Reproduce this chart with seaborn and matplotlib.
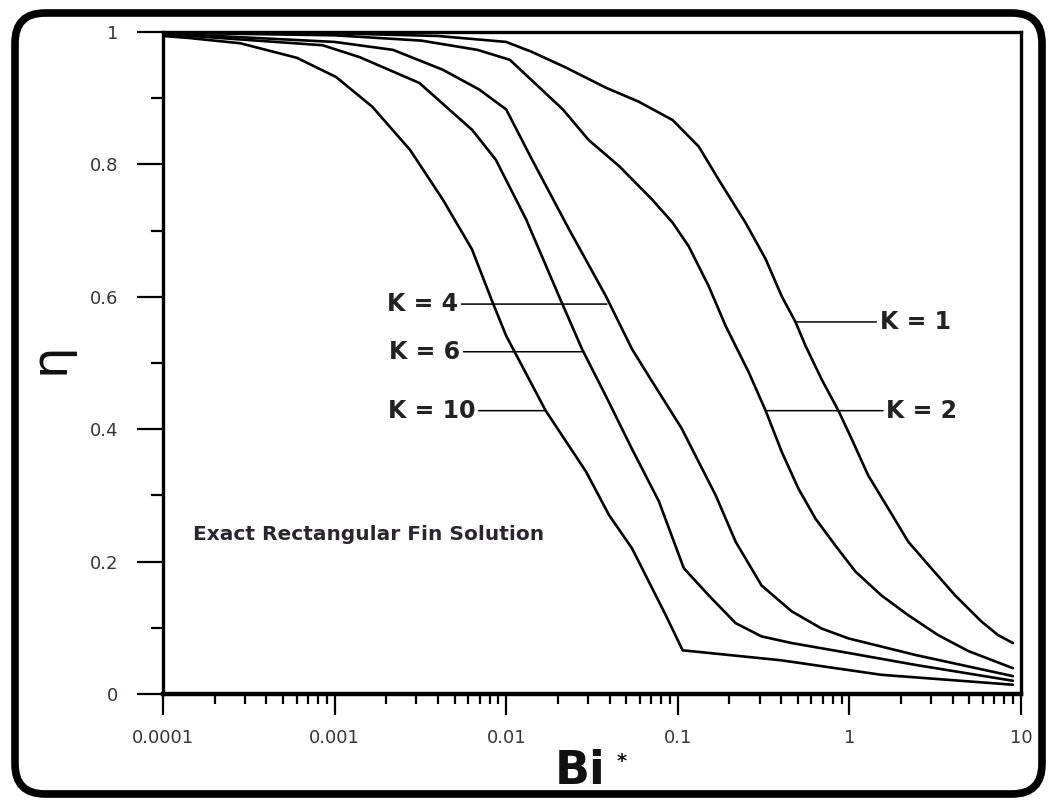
import matplotlib
matplotlib.use("Agg")
import matplotlib.pyplot as plt
from matplotlib.patches import FancyBboxPatch
from matplotlib.ticker import LogLocator, FixedLocator, NullFormatter, FixedFormatter
import seaborn as sns
import pandas as pd

# ---- data ----
bi_k1 = [0.0001, 0.001, 0.004, 0.01, 0.0141, 0.0224, 0.038, 0.0589, 0.0933, 0.1324, 0.173,
         0.248, 0.325, 0.403, 0.485, 0.555, 0.687, 0.863, 1.028, 1.288, 1.687, 2.203, 3.0,
         4.13, 5.85, 7.35, 8.97]
eta_k1 = [1.0, 0.998, 0.994, 0.985, 0.970, 0.946, 0.916, 0.895, 0.867, 0.827, 0.777,
          0.712, 0.657, 0.601, 0.562, 0.526, 0.476, 0.428, 0.386, 0.330, 0.280, 0.230, 0.190,
          0.149, 0.110, 0.089, 0.077]

bi_k2 = [0.0001, 0.001, 0.0032, 0.0068, 0.0105, 0.0214, 0.0302, 0.0457, 0.0708, 0.0933,
         0.1159, 0.1514, 0.190, 0.259, 0.325, 0.403, 0.505, 0.634, 0.830, 1.084, 1.535,
         2.203, 3.289, 4.92, 8.97]
eta_k2 = [0.999, 0.995, 0.987, 0.973, 0.958, 0.883, 0.837, 0.797, 0.747, 0.712,
          0.676, 0.616, 0.556, 0.486, 0.428, 0.366, 0.310, 0.265, 0.224, 0.185, 0.149,
          0.119, 0.089, 0.065, 0.039]

bi_k4 = [0.0001, 0.001, 0.00219, 0.00427, 0.00697, 0.01, 0.01416, 0.02323, 0.0381, 0.0541,
         0.0678, 0.1054, 0.1663, 0.2173, 0.3076, 0.4603, 0.687, 0.986, 2.421, 8.97]
eta_k4 = [0.998, 0.985, 0.973, 0.943, 0.913, 0.883, 0.807, 0.702, 0.601, 0.521,
          0.480, 0.401, 0.300, 0.230, 0.164, 0.125, 0.099, 0.084, 0.059, 0.027]

bi_k6 = [0.0001, 0.000851, 0.0014, 0.00312, 0.00634, 0.0087, 0.01306, 0.0203, 0.02767,
         0.0381, 0.0541, 0.0776, 0.1084, 0.1514, 0.2173, 0.3076, 0.4603, 0.986, 2.421, 8.97]
eta_k6 = [0.997, 0.980, 0.962, 0.923, 0.852, 0.807, 0.717, 0.601, 0.521,
          0.450, 0.370, 0.291, 0.190, 0.149, 0.107, 0.087, 0.077, 0.062, 0.044, 0.020]

bi_k10 = [0.0001, 0.000141, 0.000282, 0.000603, 0.00102, 0.00166, 0.00275, 0.00427, 0.00631,
          0.00832, 0.01, 0.01698, 0.02917, 0.0398, 0.0541, 0.0851, 0.1067, 0.398, 1.535, 8.97]
eta_k10 = [0.994, 0.991, 0.983, 0.961, 0.932, 0.887, 0.822, 0.747, 0.672,
           0.592, 0.541, 0.428, 0.336, 0.270, 0.220, 0.119, 0.066, 0.051, 0.029, 0.014]

series_names = ["K = 1", "K = 2", "K = 4", "K = 6", "K = 10"]
series_bi = [bi_k1, bi_k2, bi_k4, bi_k6, bi_k10]
series_eta = [eta_k1, eta_k2, eta_k4, eta_k6, eta_k10]

x_ticks = [0.0001, 0.001, 0.01, 0.1, 1, 10]
x_ticklabels = ["0.0001", "0.001", "0.01", "0.1", "1", "10"]
y_ticks = [0, 0.2, 0.4, 0.6, 0.8, 1]
y_ticklabels = ["0", "0.2", "0.4", "0.6", "0.8", "1"]
y_minor = [0.1, 0.3, 0.5, 0.7, 0.9]

# label annotations: (text, point on curve (Bi, eta), text anchor Bi, alignment)
labels = [
    ("K = 1", (0.485, 0.562), 1.50, "left"),
    ("K = 2", (0.325, 0.428), 1.64, "left"),
    ("K = 4", (0.0386, 0.589), 0.00525, "right"),
    ("K = 6", (0.0277, 0.517), 0.0054, "right"),
    ("K = 10", (0.0171, 0.428), 0.0066, "right"),
]
note_text = "Exact Rectangular Fin Solution"

# ---- build long table ----
rows = []
for name, bx, ey in zip(series_names, series_bi, series_eta):
    for order, (b, e) in enumerate(zip(bx, ey)):
        rows.append({"K": name, "Bi": b, "eta": e, "order": order})
df = pd.DataFrame(rows)

sns.set_theme(style="white")
plt.rcParams["font.family"] = ["DejaVu Sans"]

W, H = 1050, 801
fig = plt.figure(figsize=(W / 100, H / 100), dpi=100)
ax = fig.add_axes([163 / W, 1 - 694 / H, (1021 - 163) / W, (694 - 32) / H])

for name in series_names:
    sub = df[df["K"] == name]
    sns.lineplot(data=sub, x="Bi", y="eta", ax=ax, color="black", linewidth=1.9,
                 sort=False, estimator=None, legend=False)

ax.set_xscale("log")
ax.set_xlim(1e-4, 10)
ax.set_ylim(0, 1)

# spines
for side in ["left", "right", "top"]:
    ax.spines[side].set_visible(True)
    ax.spines[side].set_color("black")
    ax.spines[side].set_linewidth(2.4)
ax.spines["bottom"].set_linewidth(3.2)
ax.spines["bottom"].set_color("black")

# ticks
ax.xaxis.set_major_locator(FixedLocator(x_ticks))
ax.xaxis.set_major_formatter(FixedFormatter(x_ticklabels))
ax.xaxis.set_minor_locator(LogLocator(base=10, subs=[2, 3, 4, 5, 6, 7, 8, 9]))
ax.xaxis.set_minor_formatter(NullFormatter())
ax.yaxis.set_major_locator(FixedLocator(y_ticks))
ax.yaxis.set_major_formatter(FixedFormatter(y_ticklabels))
ax.yaxis.set_minor_locator(FixedLocator(y_minor))

ax.tick_params(axis="x", which="major", direction="out", length=15, width=1.6,
               colors="black", labelcolor="#3a3340", labelsize=13, pad=10,
               bottom=True, top=False)
ax.tick_params(axis="x", which="minor", direction="out", length=7, width=1.6,
               colors="black", bottom=True, top=False)
ax.tick_params(axis="y", which="major", direction="out", length=19, width=1.6,
               colors="black", labelcolor="#3a3340", labelsize=13, pad=13,
               left=True, right=False)
ax.tick_params(axis="y", which="minor", direction="out", length=9, width=1.6,
               colors="black", left=True, right=False)
ax.set_xlabel("")
ax.set_ylabel("")
ax.grid(False)

# curve labels with leader lines
for text, xy, tx, ha in labels:
    ax.annotate(text, xy=xy, xytext=(tx, xy[1]), textcoords="data",
                ha=ha, va="center", fontsize=17, fontweight="bold", color="#222222",
                arrowprops=dict(arrowstyle="-", color="black", lw=1.1,
                                shrinkA=0, shrinkB=0))

ax.text(0.00015, 0.241, note_text, ha="left", va="center", fontsize=14.5,
        fontweight="bold", color="#2a2530")

# axis labels
fig.text(555 / W, 1 - 771 / H, "Bi", ha="left", va="center", fontsize=33,
         fontweight="bold", color="#111111")
fig.text(617 / W, 1 - 762 / H, "*", ha="left", va="center", fontsize=14,
         fontweight="bold", color="#111111")
fig.text(50 / W, 1 - 358 / H, "η", ha="center", va="center", fontsize=36,
         rotation=90, color="#111111")

# rounded frame around the figure
frame = FancyBboxPatch((15 / 100, (H - 794) / 100), (1042 - 15) / 100, (794 - 13) / 100,
                       boxstyle="round,pad=0,rounding_size=0.3",
                       transform=fig.dpi_scale_trans, fill=False,
                       edgecolor="black", linewidth=5.5)
fig.add_artist(frame)

fig.savefig("out.png", dpi=100, facecolor="white")
